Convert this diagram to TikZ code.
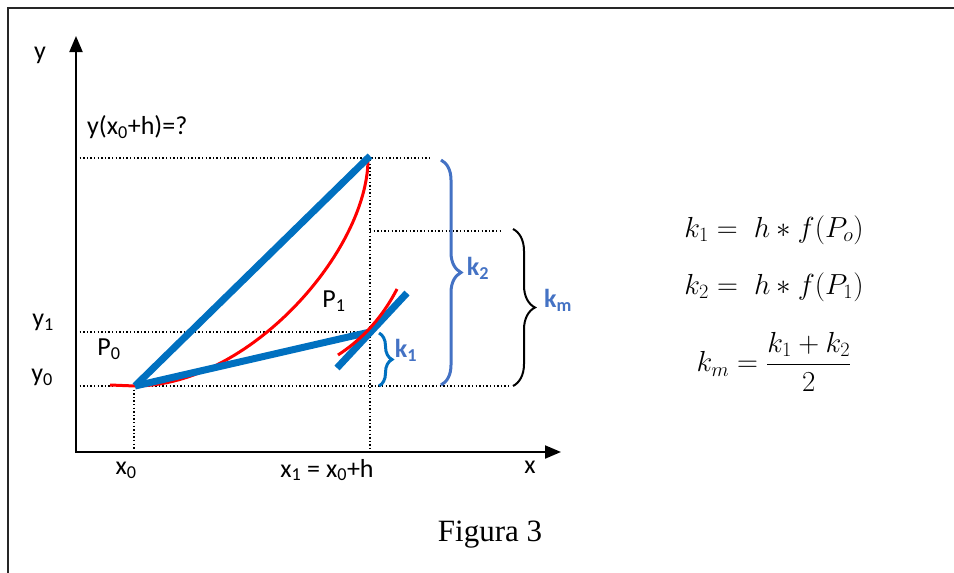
\RequirePackage{fix-cm}
\documentclass[tikz,border=0pt]{standalone}
\usepackage[no-math]{fontspec}
\setmainfont{Carlito}
\newfontfamily\timesfont{Liberation Serif}
\usetikzlibrary{decorations.pathreplacing,arrows.meta}
\definecolor{lineblue}{HTML}{0070C0}
\definecolor{bracblue}{HTML}{4472C4}
\newcommand\lowsub[1]{\textsubscript{#1}}
\begin{document}
\begin{tikzpicture}[x=1pt,y=-1pt,
  lbl/.style={font=\fontsize{26}{30}\selectfont, inner sep=0pt},
  klbl/.style={font=\fontsize{26}{30}\selectfont\bfseries, text=bracblue, inner sep=0pt},
  eqn/.style={font=\fontsize{29}{34}\selectfont, inner sep=0pt},
  dotline/.style={line width=1.4pt, dash pattern=on 1.4pt off 2.2pt},
  thickblue/.style={lineblue, line width=7pt},
  redc/.style={red, line width=3pt},
  axisline/.style={line width=2pt, {Triangle[length=16pt,width=13pt]}-{Triangle[length=16pt,width=13pt]}},
  brc/.style={decorate, decoration={brace, amplitude=#1}},
]
\useasboundingbox (0,0) rectangle (954,573);
% frame
\coordinate (fbl) at (8,573);
\coordinate (ftl) at (8,8);
\coordinate (ftr) at (954,8);
\draw[line width=2pt, black!85] (fbl) -- (ftl) -- (ftr);

% key points
\coordinate (O) at (76,452);
\coordinate (ytip) at (76,36);
\coordinate (xtip) at (561,452);
\coordinate (P0) at (135,386);
\coordinate (P1) at (370,332);
\coordinate (Ptop) at (370,156);
\coordinate (Rtop) at (368,159);
\coordinate (Rstart) at (110,385);

% dotted guide lines
\coordinate (d1a) at (76,158);  \coordinate (d1b) at (429,158);
\coordinate (d2a) at (76,332);
\coordinate (d3a) at (76,386);  \coordinate (d3b) at (509,386);
\coordinate (d4a) at (370,231); \coordinate (d4b) at (502,231);
\coordinate (v1a) at (134,386); \coordinate (v1b) at (134,452);
\coordinate (v2a) at (370,160); \coordinate (v2b) at (370,452);
\draw[dotline] (d1a) -- (d1b);
\draw[dotline] (d2a) -- (P1);
\draw[dotline] (d3a) -- (d3b);
\draw[dotline] (d4a) -- (d4b);
\draw[dotline] (v1a) -- (v1b);
\draw[dotline] (v2a) -- (v2b);

% axes
\draw[axisline] (ytip) |- (xtip);

% red curve
\draw[redc] (Rstart) -- (P0) .. controls (250,386) and (368,250) .. (Rtop);

% blue lines
\coordinate (T1) at (337,368);
\coordinate (T2) at (407,293);
\draw[thickblue] (P0) -- (Ptop);
\draw[thickblue] (P0) -- (P1);
\draw[thickblue] (T1) -- (T2);

% red tangent arc at P1
\coordinate (R1) at (338,355);
\coordinate (R2) at (397,289);
\draw[redc] (R1) .. controls (358,342) and (380,322) .. (R2);

% braces
\coordinate (b1a) at (379,333); \coordinate (b1b) at (379,386);
\coordinate (b2a) at (441,160); \coordinate (b2b) at (441,385);
\coordinate (b3a) at (513,229); \coordinate (b3b) at (513,386);
\draw[brc=13pt, lineblue, line width=3pt] (b1a) -- (b1b);
\draw[brc=20pt, bracblue, line width=3pt] (b2a) -- (b2b);
\draw[brc=22pt, black, line width=2pt] (b3a) -- (b3b);

% labels
\node[lbl] (ylab) at (40,55) {y};
\node[lbl] (xlab) at (530,467) {x};
\node[lbl, anchor=west] (q) at (87,127) {y(x\lowsub{0}+h)=?};
\node[lbl] (p1lab) at (334,301) {P\lowsub{1}};
\node[lbl] (p0lab) at (109,349) {P\lowsub{0}};
\node[lbl] (y1lab) at (43,322) {y\lowsub{1}};
\node[lbl] (y0lab) at (42,377) {y\lowsub{0}};
\node[lbl] (x0lab) at (126,470) {x\lowsub{0}};
\node[lbl] (x1lab) at (327,470) {x\lowsub{1} = x\lowsub{0}+h};
\node[klbl] (k1lab) at (406,350) {k\lowsub{1}};
\node[klbl] (k2lab) at (478,268) {k\lowsub{2}};
\node[klbl] (kmlab) at (558,300) {k\lowsub{m}};

% equations
\node[eqn] (e1) at (774,230) {$k_1 =\; h \ast f(P_o)$};
\node[eqn] (e2) at (774,287) {$k_2 =\; h \ast f(P_1)$};
\node[eqn] (e3) at (774,362) {$\displaystyle k_m = \frac{k_1+k_2}{2}$};

% caption
\node[font=\timesfont\fontsize{31}{36}\selectfont, inner sep=0pt] (fig) at (490,535) {Figura 3};
\end{tikzpicture}
\end{document}
